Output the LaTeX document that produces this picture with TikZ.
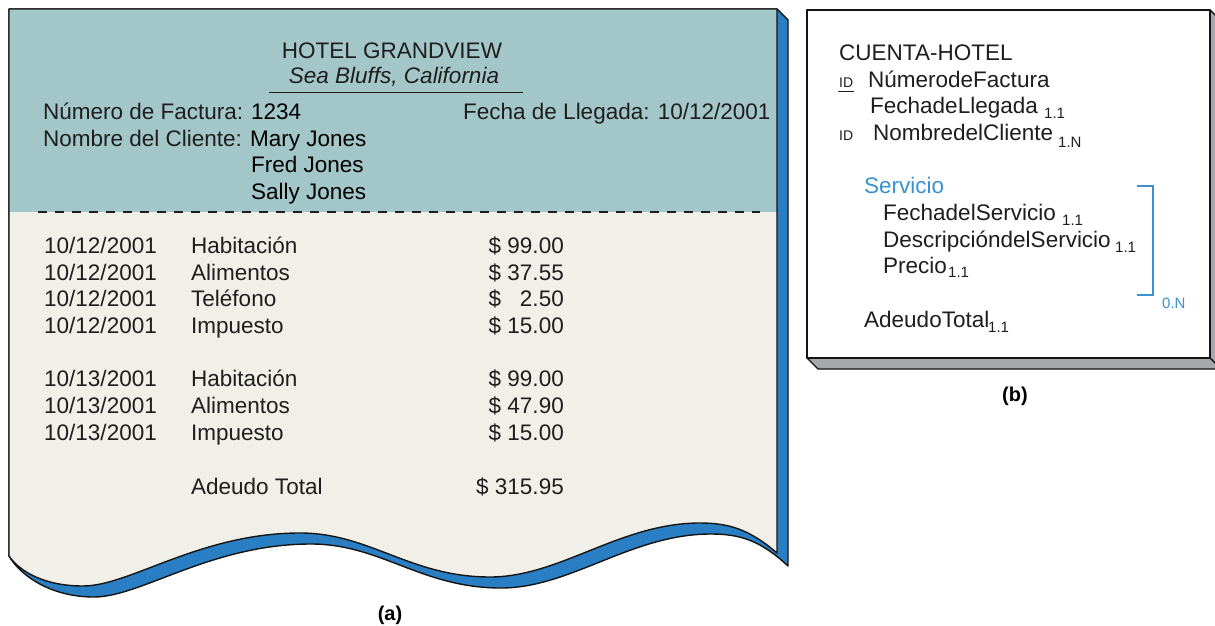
\documentclass[tikz,border=0pt]{standalone}
\usepackage{fontspec}
\setmainfont{Liberation Sans}
\definecolor{hdrteal}{RGB}{163,198,201}
\definecolor{beige}{RGB}{240,240,232}
\definecolor{depthblue}{RGB}{42,127,196}
\definecolor{shadowgray}{RGB}{166,168,171}
\definecolor{servblue}{RGB}{58,146,210}
\definecolor{ink}{RGB}{30,30,30}
\definecolor{outl}{RGB}{20,20,20}
\begin{document}
\begin{tikzpicture}[x=1pt,y=-1pt,
  txt/.style={anchor=base west, inner sep=0pt, text=ink, font=\fontsize{22.5}{26}\selectfont},
  amt/.style={anchor=base east, inner sep=0pt, text=ink, font=\fontsize{22.5}{26}\selectfont},
  subtxt/.style={anchor=base west, inner sep=0pt, text=ink, font=\fontsize{15}{17}\selectfont},
  smalltxt/.style={anchor=base west, inner sep=0pt, text=ink, font=\fontsize{14}{16}\selectfont},
  captxt/.style={anchor=base, inner sep=0pt, text=black, font=\bfseries\fontsize{20}{24}\selectfont},
  outline/.style={draw=outl, line width=1.4pt, line join=round}]
\useasboundingbox (0,0) rectangle (1215,626);
\clip (0,0) rectangle (1215,626);
% ---------- (a) receipt ----------
% depth (blue)
\path[outline, fill=depthblue] (777,9) -- (788,20) -- (788,566)
  .. controls (761,541) and (741,534) .. (711,534)
  .. controls (631,534) and (571,588) .. (501,588)
  .. controls (421,588) and (381,544) .. (311,544)
  .. controls (211,544) and (141,597) .. (94,597)
  .. controls (50,597) and (20,575) .. (9,556) -- (9,9) -- cycle;
% front face: beige body
\path[fill=beige] (9,212) -- (777,212) -- (777,553)
  .. controls (750,530) and (730,523) .. (700,523)
  .. controls (620,523) and (560,577) .. (490,577)
  .. controls (410,577) and (370,533) .. (300,533)
  .. controls (200,533) and (130,586) .. (83,586)
  .. controls (45,586) and (20,572) .. (9,556) -- cycle;
% front face: teal header
\path[fill=hdrteal] (9,9) rectangle (777,212);
% outline of front face
\path[outline] (9,556) -- (9,9) -- (777,9) -- (777,553)
  .. controls (750,530) and (730,523) .. (700,523)
  .. controls (620,523) and (560,577) .. (490,577)
  .. controls (410,577) and (370,533) .. (300,533)
  .. controls (200,533) and (130,586) .. (83,586)
  .. controls (45,586) and (20,572) .. (9,556);
% dashed separator
\draw[ink, line width=1.3pt, dash pattern=on 9pt off 8pt] (38,212) -- (760,212);
% header text
\node[txt, anchor=base] (hotel) at (392,59) {HOTEL GRANDVIEW};
\node[txt, anchor=base, font=\itshape\fontsize{22.5}{26}\selectfont] (sea) at (394,84) {Sea Bluffs, California};
\draw[ink, line width=1pt] (269,92) -- (523,92);
\node[txt] (lnum) at (43,119) {Número de Factura:};
\node[txt, text=black] (vnum) at (251,119) {1234};
\node[txt] (lfecha) at (463,119) {Fecha de Llegada: 10/12/2001};
\node[txt] (lnom) at (43,146) {Nombre del Cliente:};
\node[txt, text=black] (v1) at (250,146) {Mary Jones};
\node[txt, text=black] (v2) at (251,172) {Fred Jones};
\node[txt, text=black] (v3) at (251,199) {Sally Jones};
% line items
\node[txt] (d1) at (44,253) {10/12/2001};
\node[txt] (d2) at (44,280) {10/12/2001};
\node[txt] (d3) at (44,306) {10/12/2001};
\node[txt] (d4) at (44,333) {10/12/2001};
\node[txt] (d5) at (44,386) {10/13/2001};
\node[txt] (d6) at (44,413) {10/13/2001};
\node[txt] (d7) at (44,440) {10/13/2001};
\node[txt] (s1) at (191,253) {Habitación};
\node[txt] (s2) at (191,280) {Alimentos};
\node[txt] (s3) at (191,306) {Teléfono};
\node[txt] (s4) at (191,333) {Impuesto};
\node[txt] (s5) at (191,386) {Habitación};
\node[txt] (s6) at (191,413) {Alimentos};
\node[txt] (s7) at (191,440) {Impuesto};
\node[txt] (stot) at (191,494) {Adeudo Total};
\node[amt] (a1) at (564,253) {\$ 99.00};
\node[amt] (a2) at (564,280) {\$ 37.55};
\node[amt] (a3) at (564,306) {\$ \phantom{9}2.50};
\node[amt] (a4) at (564,333) {\$ 15.00};
\node[amt] (a5) at (564,386) {\$ 99.00};
\node[amt] (a6) at (564,413) {\$ 47.90};
\node[amt] (a7) at (564,440) {\$ 15.00};
\node[amt] (atot) at (564,494) {\$ 315.95};
\node[captxt] (capa) at (390,620) {(a)};
% ---------- (b) data model ----------
\path[outline, fill=shadowgray] (1210,10) -- (1221,21) -- (1221,369) -- (818,369) -- (807,358) -- (1210,358) -- cycle;
\draw[outline] (1210,358) -- (1221,369);
\path[outline, fill=white] (807,10) rectangle (1210,358);
\node[txt] (ent) at (839,61) {CUENTA-HOTEL};
\node[smalltxt] (id1) at (839,87) {ID};
\draw[ink, line width=0.9pt] (838,91) -- (854,91);
\node[txt] (b1) at (868,87) {NúmerodeFactura};
\node[txt] (b2) at (870,113) {FechadeLlegada};
\node[subtxt] (b2s) at (1044,118) {1.1};
\node[smalltxt] (id2) at (839,140) {ID};
\node[txt] (b3) at (873,140) {NombredelCliente};
\node[subtxt] (b3s) at (1058,147) {1.N};
\node[txt, text=servblue] (serv) at (864,193) {Servicio};
\node[txt] (c1) at (883,220) {FechadelServicio};
\node[subtxt] (c1s) at (1062,225) {1.1};
\node[txt] (c2) at (883,247) {DescripcióndelServicio};
\node[subtxt] (c2s) at (1115,252) {1.1};
\node[txt] (c3) at (883,273) {Precio};
\node[subtxt] (c3s) at (948,277) {1.1};
\draw[servblue, line width=1.3pt] (1137,186) -- (1153,186) -- (1153,295) -- (1137,295);
\node[subtxt, text=servblue] (rep) at (1162,308) {0.N};
\node[txt] (tot) at (864,327) {AdeudoTotal};
\node[subtxt] (tots) at (988,332) {1.1};
\node[captxt] (capb) at (1015,401) {(b)};
\end{tikzpicture}
\end{document}
